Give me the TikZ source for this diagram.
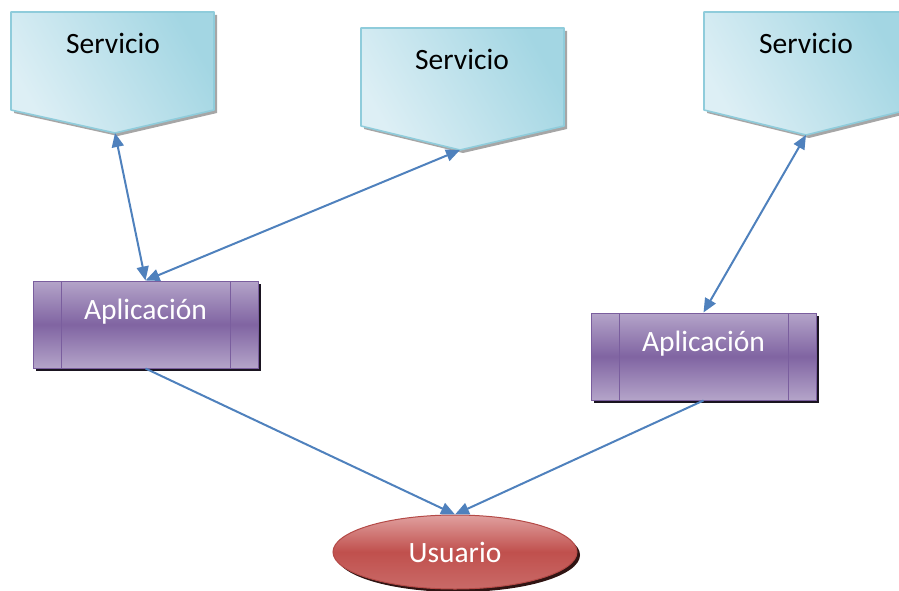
\documentclass[tikz,border=0pt]{standalone}
\usepackage{fontspec}
\setmainfont{Carlito}
\usetikzlibrary{shadows,arrows.meta,shapes.geometric}
\definecolor{servfillA}{HTML}{DDEFF5}
\definecolor{servfillB}{HTML}{A3D6E3}
\definecolor{servedge}{HTML}{8FCCDB}
\definecolor{appmid}{HTML}{8064A2}
\definecolor{applight}{HTML}{B4A4C9}
\definecolor{appedge}{HTML}{7A5E9E}
\definecolor{userlight}{HTML}{E0A09F}
\definecolor{usermid}{HTML}{C0504D}
\definecolor{useredge}{HTML}{B44A47}
\definecolor{linkblue}{HTML}{4F81BD}
\begin{document}
\begin{tikzpicture}[x=1pt,y=-1pt,
  >={Triangle[length=14pt, width=12pt]},
  servshape/.style={draw=servedge, line width=1.6pt, line join=round,
    left color=servfillA, right color=servfillB, shading angle=120,
    drop shadow={shadow xshift=3pt, shadow yshift=-3pt, fill=black!35, opacity=1}},
  servtext/.style={font=\fontsize{29.5}{34}\selectfont, text=black},
  appbox/.style={rectangle, draw=appedge, line width=1pt,
    minimum width=225pt, minimum height=87pt, text depth=30pt,
    top color=applight, bottom color=applight, middle color=appmid,
    text=white, font=\fontsize{29.5}{34}\selectfont,
    drop shadow={shadow xshift=3pt, shadow yshift=-3pt, fill=black!80!appmid, opacity=1},
    path picture={
      \draw[appedge, line width=1pt]
        ([xshift=28pt]path picture bounding box.north west) --
        ([xshift=28pt]path picture bounding box.south west)
        ([xshift=-28pt]path picture bounding box.north east) --
        ([xshift=-28pt]path picture bounding box.south east);}},
  userbox/.style={ellipse, draw=useredge, line width=1pt,
    minimum width=244pt, minimum height=74pt,
    top color=userlight, bottom color=usermid!85!white, middle color=usermid,
    text=white, font=\fontsize{29.5}{34}\selectfont,
    drop shadow={shadow xshift=3pt, shadow yshift=-3pt, fill=black!75!usermid, opacity=1}},
  link/.style={draw=linkblue, line width=2pt}
]
\useasboundingbox (0,0) rectangle (899,591);
\clip (0,0) rectangle (899,591);

% services
\path[servshape] (11,12) -- (214,12) -- (214,110) -- (115,133) -- (11,110) -- cycle;
\path[servshape] (361,28) -- (564,28) -- (564,126) -- (460,150) -- (361,126) -- cycle;
\path[servshape] (704,12) -- (907,12) -- (907,110) -- (806,135) -- (704,110) -- cycle;
\node[servtext] (s1) at (113,43) {Servicio};
\node[servtext] (s2) at (462,59) {Servicio};
\node[servtext] (s3) at (806,43) {Servicio};
\coordinate (s1tip) at (115,133);
\coordinate (s2tip) at (460,150);
\coordinate (s3tip) at (806,135);

% applications
\node[appbox] (a1) at (145.5,324.5) {Aplicación};
\node[appbox] (a2) at (703.5,356.5) {Aplicación};

% user
\node[userbox] (u) at (455,552) {Usuario};

% connectors
\draw[link, <->] (s1tip) -- (a1.north);
\draw[link, <->] (s2tip) -- (a1.north);
\draw[link, <->] (s3tip) -- (a2.north);
\draw[link, ->] (a1.south) -- (u.north);
\draw[link, ->] (a2.south) -- (u.north);
\end{tikzpicture}
\end{document}
